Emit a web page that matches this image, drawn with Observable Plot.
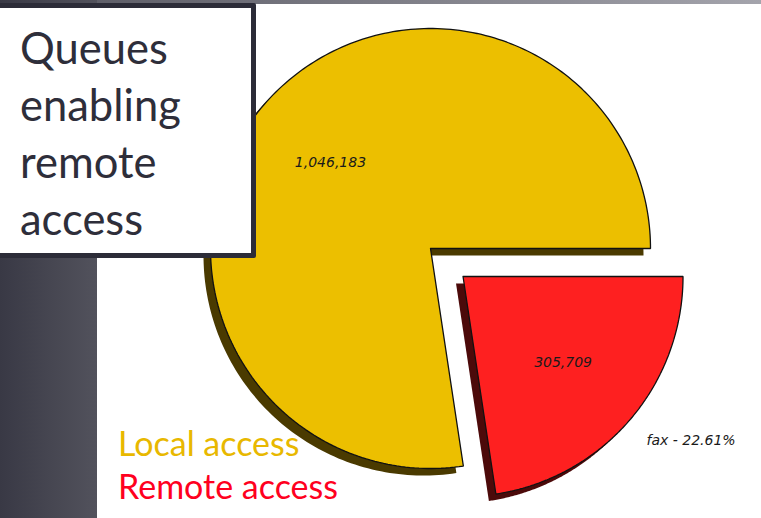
<!DOCTYPE html>
<html>
<head>
<meta charset="utf-8">
<script src="https://cdn.jsdelivr.net/npm/d3@7"></script>
<script src="https://cdn.jsdelivr.net/npm/@observablehq/plot@0.6"></script>
<style>
  html, body { margin: 0; padding: 0; width: 761px; height: 518px; overflow: hidden; background: #fff; }
  #topbar { position: absolute; left: 0; top: 0; width: 761px; height: 4px; background: linear-gradient(to right, #55555f, #a4a4ac); }
  #strip { position: absolute; left: 0; top: 0; width: 97px; height: 518px; background: linear-gradient(to right, #393945, #52525c); }
  #chart { position: absolute; left: 0; top: 0; }
  #titlebox { position: absolute; left: -6px; top: 3px; width: 252px; height: 245px; background: #fff; border: 5px solid #2c2c38; border-radius: 2px; }
  #title { position: absolute; left: 21px; top: 11px; font-family: Lato, "Open Sans", sans-serif; font-weight: 400; font-size: 43.5px; line-height: 57px; color: #2e2e3a; }
  .legend { position: absolute; left: 118px; font-family: Lato, "Open Sans", sans-serif; font-weight: 400; font-size: 34px; white-space: nowrap; }
</style>
</head>
<body>
<div id="topbar"></div>
<div id="strip"></div>
<div id="chart"></div>
<div id="titlebox"><div id="title"></div></div>
<div id="legend"></div>
<script>
// ---- data ----
const categories = ["Remote access", "Local access"];
const values = [305709, 1046183];
const valueLabels = ["305,709", "1,046,183"];
const outerLabels = ["fax - 22.61%", ""];
const explode = [0.195, 0];
const titleLines = ["Queues", "enabling", "remote", "access"];

// ---- styles ----
const colors = ["#fe2020", "#ecbf00"];
const shadowColors = ["#4c0a0a", "#4a3a00"];
const legendColors = ["#ff0020", "#e8b800"];

const W = 761, H = 518, cx = 430, cy = 248, R = 220;

const arcs = d3.pie().sort(null).startAngle(Math.PI / 2).endAngle(Math.PI / 2 + 2 * Math.PI)(values);

const slices = arcs.map((p, i) => {
  const mid = (p.startAngle + p.endAngle) / 2;
  const ox = explode[i] * Math.sin(mid), oy = explode[i] * Math.cos(mid);
  const pts = [{x: ox, y: oy}];
  const n = 240;
  for (let k = 0; k <= n; k++) {
    const a = p.startAngle + (p.endAngle - p.startAngle) * k / n;
    pts.push({x: ox + Math.sin(a), y: oy + Math.cos(a)});
  }
  pts.push({x: ox, y: oy});
  return {i, mid, ox, oy, pts};
});

const inner = slices.map(s => ({
  x: s.ox + 0.6 * Math.sin(s.mid), y: s.oy + 0.6 * Math.cos(s.mid), text: valueLabels[s.i]
}));
const outer = slices.filter(s => outerLabels[s.i]).map(s => ({
  x: s.ox + 1.1 * Math.sin(s.mid), y: s.oy + 1.1 * Math.cos(s.mid), text: outerLabels[s.i]
}));

const marks = [];
slices.forEach(s => {
  marks.push(Plot.line(s.pts, {x: "x", y: "y", fill: shadowColors[s.i], stroke: "none", dx: -7, dy: 7, curve: "linear"}));
});
slices.forEach(s => {
  marks.push(Plot.line(s.pts, {x: "x", y: "y", fill: colors[s.i], stroke: "#111", strokeWidth: 1.3, strokeLinejoin: "miter", curve: "linear"}));
});
marks.push(Plot.text(inner, {x: "x", y: "y", text: "text", fontStyle: "italic", fontFamily: "DejaVu Sans", fontSize: 14, fill: "#1a1a1a"}));
marks.push(Plot.text(outer, {x: "x", y: "y", text: "text", textAnchor: "start", dy: 6, fontStyle: "italic", fontFamily: "DejaVu Sans", fontSize: 14, fill: "#1a1a1a"}));

const chart = Plot.plot({
  width: W, height: H,
  margin: 0,
  x: {domain: [-cx / R, (W - cx) / R], axis: null},
  y: {domain: [-(H - cy) / R, cy / R], axis: null},
  style: {background: "transparent", overflow: "visible"},
  marks
});
document.getElementById("chart").appendChild(chart);

document.getElementById("title").innerHTML = titleLines.join("<br>");

const legend = document.getElementById("legend");
const order = [1, 0];
order.forEach((idx, k) => {
  const d = document.createElement("div");
  d.className = "legend";
  d.style.top = (422 + k * 43) + "px";
  d.style.color = legendColors[idx];
  d.textContent = categories[idx];
  legend.appendChild(d);
});
</script>
</body>
</html>
